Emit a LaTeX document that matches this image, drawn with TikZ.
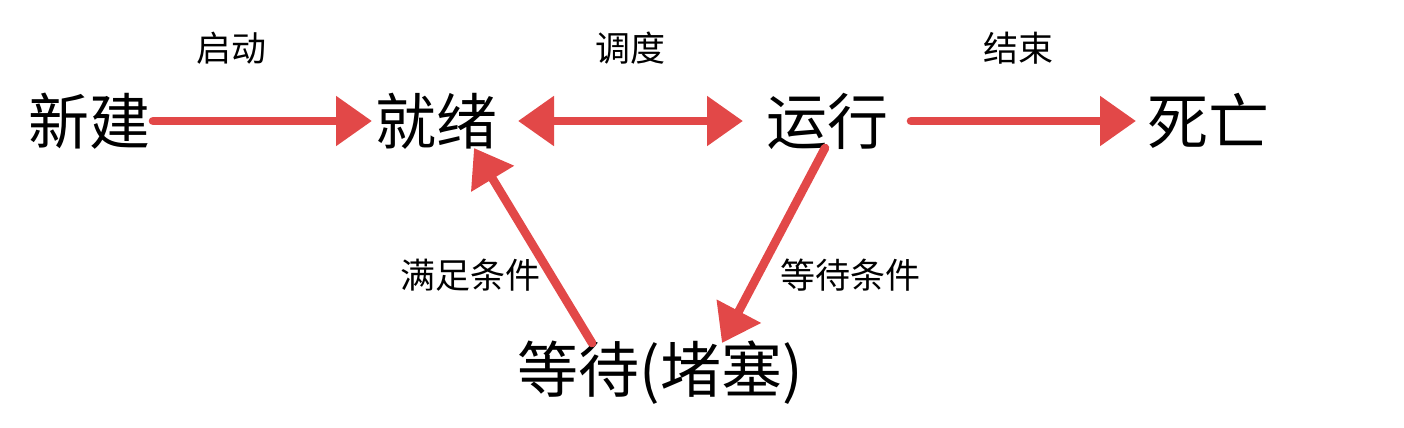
\documentclass[tikz,border=0pt]{standalone}
\usepackage{fontspec}
\setmainfont{Noto Sans CJK SC}
\usetikzlibrary{arrows.meta,calc}
\definecolor{arrred}{RGB}{226,72,72}
\tikzset{
  state/.style={inner sep=0pt, font=\fontsize{30.5}{31}\selectfont},
  lbl/.style={inner sep=0pt, font=\fontsize{17.5}{18}\selectfont},
  flow/.style={draw=arrred, line width=4.3pt, line cap=round,
    -{Triangle[length=18pt,width=24pt]}},
  flow2/.style={draw=arrred, line width=4.3pt,
    {Triangle[length=18pt,width=24pt]}-{Triangle[length=18pt,width=24pt]}}
}
\begin{document}
\begin{tikzpicture}[x=0.5pt,y=-0.5pt]
\useasboundingbox (0,0) rectangle (1404,428);
\node[state] (new) at (89,121) {新建};
\node[state] (ready) at (436,121) {就绪};
\node[state] (run) at (827,121) {运行};
\node[state] (dead) at (1208,121) {死亡};
\node[state] (wait) at (660,373) {等待(堵塞)};
\node[lbl] (l1) at (231,48) {启动};
\node[lbl] (l2) at (630,48) {调度};
\node[lbl] (l3) at (1018,48) {结束};
\node[lbl] (l4) at (470,275) {满足条件};
\node[lbl] (l5) at (850,275) {等待条件};
\draw[flow] ($(new.center)+(64,0)$) -- ($(ready.center)+(-64,0)$);
\draw[flow2] ($(ready.center)+(82,0)$) -- ($(run.center)+(-84,0)$);
\draw[flow] ($(run.center)+(84,0)$) -- ($(dead.center)+(-72,0)$);
\draw[flow] ($(run.center)+(-2,27)$) -- ($(wait.center)+(62,-30)$);
\draw[flow] ($(wait.center)+(-68,-30)$) -- ($(ready.center)+(38,27)$);
\end{tikzpicture}
\end{document}
